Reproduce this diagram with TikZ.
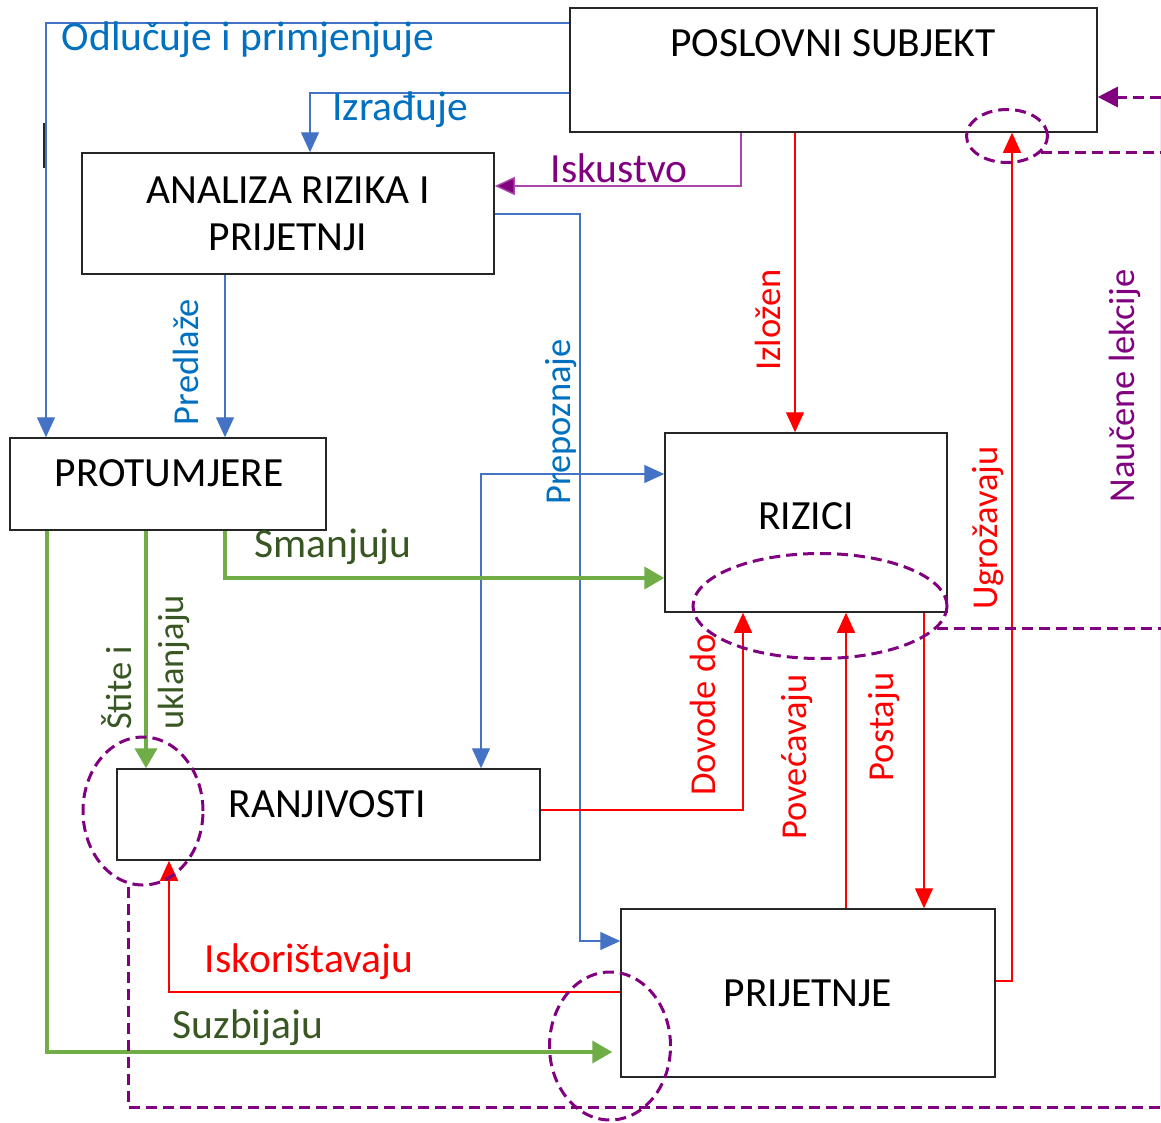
\documentclass[tikz,border=0pt]{standalone}
\usepackage{fontspec}
\setmainfont{Carlito}
\usetikzlibrary{arrows.meta,shapes.geometric}
\definecolor{lblue}{RGB}{68,114,196}
\definecolor{tblue}{RGB}{0,112,192}
\definecolor{lgreen}{RGB}{112,173,71}
\definecolor{tgreen}{RGB}{56,87,35}
\definecolor{rred}{RGB}{255,0,0}
\definecolor{ppl}{RGB}{128,0,128}
\definecolor{lppl}{RGB}{170,70,170}
\definecolor{frame}{RGB}{38,38,38}
\tikzset{
  box/.style={draw=frame,line width=1.5pt,rectangle,inner sep=0pt,fill=white},
  boxtext/.style={font=\fontsize{41.5}{47}\selectfont,inner sep=0pt,align=center},
  hlbl/.style={font=\fontsize{41.5}{48}\selectfont,inner sep=0pt},
  vlbl/.style={font=\fontsize{36.5}{52}\selectfont,inner sep=0pt,rotate=90},
  bline/.style={draw=lblue,line width=1.4pt,-{Triangle[length=20pt,width=18pt,fill=lblue]}},
  rline/.style={draw=rred,line width=1.3pt,-{Triangle[length=20pt,width=18pt,fill=rred]}},
  gline/.style={draw=lgreen,line width=4pt,-{Triangle[length=20pt,width=22pt,fill=lgreen]}},
  pline/.style={draw=lppl,line width=1.4pt},
  dline/.style={draw=ppl,line width=3pt,dash pattern=on 11pt off 6pt},
  dring/.style={ellipse,draw=ppl,line width=3pt,dash pattern=on 11pt off 6pt,inner sep=0pt},
}
\begin{document}
\begin{tikzpicture}[x=1pt,y=-1pt]
\useasboundingbox[fill=white] (0,0) rectangle (1161,1122);

% boxes
\node[box,minimum width=527pt,minimum height=124pt] (ps) at (833.5,70) {};
\node[boxtext] (pst) at (833,43) {POSLOVNI SUBJEKT};
\node[box,minimum width=412pt,minimum height=121pt,boxtext] (ar) at (288,213.5) {ANALIZA RIZIKA I\\PRIJETNJI};
\node[box,minimum width=316pt,minimum height=92pt] (pm) at (168,484) {};
\node[boxtext] (pmt) at (169,473) {PROTUMJERE};
\node[box,minimum width=282pt,minimum height=179pt] (rz) at (806,522.5) {};
\node[boxtext] (rzt) at (806,516) {RIZICI};
\node[box,minimum width=423pt,minimum height=91pt] (rn) at (328.5,814.5) {};
\node[boxtext] (rnt) at (327,804) {RANJIVOSTI};
\node[box,minimum width=374pt,minimum height=168pt] (pj) at (808,993) {};
\node[boxtext] (pjt) at (808,993) {PRIJETNJE};

% bend points
\coordinate (kOd) at (46,23);
\coordinate (kIz) at (310,93);
\coordinate (kIs) at (741,186);
\coordinate (kPr) at (580,214);
\coordinate (kPr2) at (580,941);
\coordinate (kPr3) at (481,474);
\coordinate (kPd) at (225,300);
\coordinate (kIzl) at (795,300);
\coordinate (kUg) at (1012,981);
\coordinate (kDv) at (743,810);
\coordinate (kPv) at (846,700);
\coordinate (kPs) at (924,700);
\coordinate (kIk) at (169,992);
\coordinate (kSm) at (225,578);
\coordinate (kSt) at (146,650);
\coordinate (kSu) at (47,1052);
\coordinate (rA) at (1161,97);
\coordinate (rT) at (1161,150);
\coordinate (rM) at (1161,628);
\coordinate (rB) at (1161,1107);
\coordinate (kDb) at (128,1107);

% stray mark on the left margin
\draw[frame,line width=2pt] (44,123) -- (44,168);

% blue connectors
\draw[bline] (kOd -| ps.west) -- (kOd) -- (kOd |- pm.north);
\draw[bline] (kIz -| ps.west) -- (kIz) -- (kIz |- ar.north);
\draw[bline] (kPr -| ar.east) -- (kPr) -- (kPr2) -- (kPr2 -| pj.west);
\draw[bline,{Triangle[length=20pt,width=18pt,fill=lblue]}-{Triangle[length=20pt,width=18pt,fill=lblue]}]
  (kPr3 |- rn.north) -- (kPr3) -- (kPr3 -| rz.west);
\draw[bline] (kPd |- ar.south) -- (kPd |- pm.north);

% purple experience link
\draw[pline,-{Triangle[length=20pt,width=18pt,fill=ppl]},draw=lppl] (kIs |- ps.south) -- (kIs) -- (kIs -| ar.east);

% red connectors
\draw[rline] (kIzl |- ps.south) -- (kIzl |- rz.north);
\draw[rline] (kUg -| pj.east) -- (kUg) -- (kUg |- ps.south);
\draw[rline] (kDv -| rn.east) -- (kDv) -- (kDv |- rz.south);
\draw[rline] (kPv |- pj.north) -- (kPv |- rz.south);
\draw[rline] (kPs |- rz.south) -- (kPs |- pj.north);
\draw[rline] (kIk -| pj.west) -- (kIk) -- (kIk |- rn.south);

% green connectors
\draw[gline] (kSm |- pm.south) -- (kSm) -- (kSm -| rz.west);
\draw[gline] (kSt |- pm.south) -- (kSt |- rn.north);
\draw[gline,shorten >=8pt] (kSu |- pm.south) -- (kSu) -- (kSu -| pj.west);

% dashed feedback rings and lines
\node[dring,minimum width=81pt,minimum height=53pt] (e1) at (1007,136) {};
\node[dring,minimum width=254pt,minimum height=105pt] (e2) at (820,606) {};
\node[dring,minimum width=120pt,minimum height=148pt] (e3) at (143,811) {};
\node[dring,minimum width=121pt,minimum height=148pt] (e4) at (610,1046) {};
\draw[draw=ppl!10,line width=1.2pt] (rA) -- (rB);
\draw[dline] (e1.-25) -- (e1.-25 -| rT);
\draw[dline] (e2.-11) -- (e2.-11 -| rM);
\draw[dline] (kDb |- e3.south) -- (kDb) -- (rB);
\draw[dline,-{Triangle[length=20pt,width=20pt,fill=ppl]}] (rA) -- (rA -| ps.east);

% labels
\node[hlbl,text=tblue] (lOd) at (248,40) {Odlučuje i primjenjuje};
\node[hlbl,text=tblue] (lIz) at (400,110) {Izrađuje};
\node[hlbl,text=ppl] (lIs) at (619,168) {Iskustvo};
\node[vlbl,text=tblue] (lPd) at (186,362) {Predlaže};
\node[vlbl,text=tblue] (lPr) at (561,422) {Prepoznaje};
\node[vlbl,text=rred] (lIzl) at (768,320) {Izložen};
\node[vlbl,text=rred] (lUg) at (988,528) {Ugrožavaju};
\node[vlbl,text=ppl] (lNl) at (1125,386) {Naučene lekcije};
\node[hlbl,text=tgreen] (lSm) at (333,547) {Smanjuju};
\node[vlbl,text=tgreen,align=left,anchor=west] (lSt) at (146,730) {Štite i\\uklanjaju};
\node[vlbl,text=rred] (lDv) at (703,715) {Dovode do};
\node[vlbl,text=rred] (lPv) at (797,757) {Povećavaju};
\node[vlbl,text=rred] (lPs) at (884,727) {Postaju};
\node[hlbl,text=rred] (lIk) at (309,962) {Iskorištavaju};
\node[hlbl,text=tgreen] (lSu) at (248,1028) {Suzbijaju};
\end{tikzpicture}
\end{document}
